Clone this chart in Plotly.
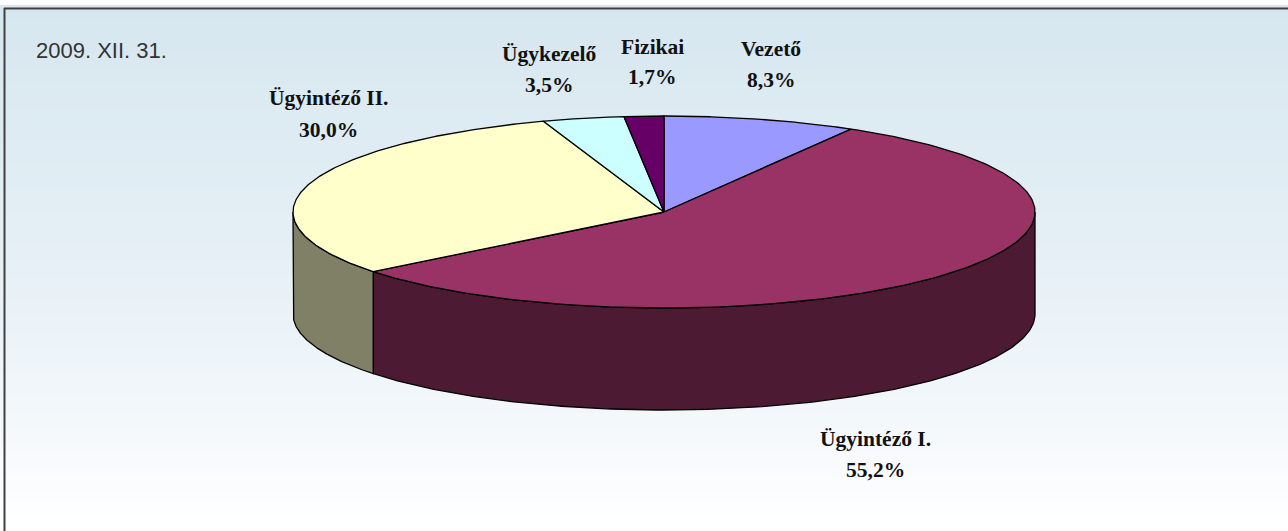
import numpy as np
import plotly.graph_objects as go

labels = ["Vezető", "Ügyintéző I.", "Ügyintéző II.", "Ügykezelő", "Fizikai"]
values = [8.3, 55.2, 30.0, 3.5, 1.7]
top_colors = ["#9999ff", "#993366", "#ffffcc", "#ccffff", "#660066"]
side_colors = ["#4d4d80", "#4d1a33", "#808066", "#668080", "#330033"]
date_label = "2009. XII. 31."
# label centre (x, y of first line, y of second line) in page pixels
label_pos = [(771, 49, 80), (875, 439, 470), (328, 98, 130), (549, 54, 85), (652, 47, 77)]

W, H = 1288, 531
CX, CY, RX, RY, DEPTH = 664, 212, 371, 96, 102
LINE = dict(color="#000000", width=1.3)


def pt(a, dy=0.0):
    a = np.asarray(a, dtype=float)
    return CX + RX * np.sin(a), CY - RY * np.cos(a) + dy


fig = go.Figure()

# background gradient
band_y = np.arange(9, H + 8, 8)
fig.add_trace(go.Heatmap(
    x=[5, W], y=band_y, z=[[v, v] for v in band_y], zsmooth=False, showscale=False,
    zmin=9, zmax=H - 4, hoverinfo="skip",
    colorscale=[[0, "#d7e7ef"], [0.5, "#e6f0f6"], [0.8, "#f4f8fb"], [1, "#ffffff"]],
))

fractions = np.array(values) / sum(values)
edges = np.concatenate([[0], np.cumsum(fractions)]) * 2 * np.pi

# side walls: only the front half of the disc (90 to 270 degrees) is visible
for i in range(len(values)):
    a0, a1 = max(edges[i], np.pi / 2), min(edges[i + 1], 3 * np.pi / 2)
    if a1 <= a0:
        continue
    t = np.linspace(a0, a1, 200)
    x0, y0 = pt(t)
    x1, y1 = pt(t[::-1], DEPTH)
    fig.add_trace(go.Scatter(
        x=np.r_[x0, x1, x0[0]], y=np.r_[y0, y1, y0[0]], mode="lines", fill="toself",
        fillcolor=side_colors[i], line=LINE, hoverinfo="skip", showlegend=False,
    ))

# top faces
for i in range(len(values)):
    t = np.linspace(edges[i], edges[i + 1], 200)
    x, y = pt(t)
    fig.add_trace(go.Scatter(
        x=np.r_[CX, x, CX], y=np.r_[CY, y, CY], mode="lines", fill="toself",
        fillcolor=top_colors[i], line=LINE, hoverinfo="skip", showlegend=False,
    ))

annotations = []
for name, val, (lx, y1, y2) in zip(labels, values, label_pos):
    for text, yy in ((name, y1), (f"{val:.1f}%".replace(".", ","), y2)):
        annotations.append(dict(
            x=lx, y=yy, xref="x", yref="y", text=f"<b>{text}</b>", showarrow=False,
            font=dict(family="Liberation Serif", size=21.5, color="#111111"),
            xanchor="center", yanchor="middle",
        ))
annotations.append(dict(
    x=34, y=50, xref="x", yref="y", text=date_label, showarrow=False,
    font=dict(family="Liberation Sans", size=22, color="#333333"),
    xanchor="left", yanchor="middle",
))

shapes = [
    dict(type="line", x0=4.5, x1=4.5, y0=8, y1=H, line=dict(color="#404040", width=2)),
    dict(type="line", x0=4, x1=W, y0=8.5, y1=8.5, line=dict(color="#404040", width=2)),
]

fig.update_layout(
    width=W, height=H, margin=dict(l=0, r=0, t=0, b=0),
    paper_bgcolor="#ffffff", plot_bgcolor="#ffffff", showlegend=False,
    xaxis=dict(range=[0, W], visible=False, fixedrange=True),
    yaxis=dict(range=[H, 0], visible=False, fixedrange=True),
    annotations=annotations, shapes=shapes,
)

fig.write_html("out.html", config={"displayModeBar": False},
               post_script="document.body.style.margin='0';document.body.style.overflow='hidden';")
